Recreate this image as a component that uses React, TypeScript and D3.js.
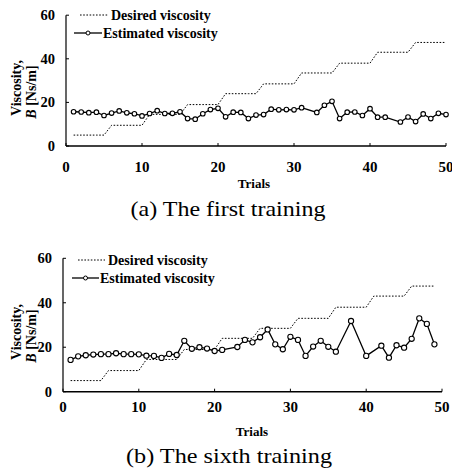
import React from "react";
import * as d3 from "d3";

// ---------- data ----------
const trialsA: number[] = [1,2,3,4,5,6,7,8,9,10,11,12,13,14,15,16,17,18,19,20,21,22,23,24,25,26,27,28,29,30,31,33,34,35,36,37,38,39,40,41,42,44,45,46,47,48,49,50];
const estimatedA: number[] = [15.7,15.6,15.3,15.5,14.0,15.1,16.1,15.2,14.8,13.8,14.9,16.2,14.9,15.0,15.7,12.6,12.3,14.8,16.7,17.3,13.4,15.5,15.4,12.6,14.2,14.4,16.9,16.6,16.7,16.6,17.6,15.4,18.7,20.5,12.6,15.5,15.6,14.0,17.1,13.2,13.2,11.0,13.3,11.2,14.7,12.6,15.0,14.4];

const trialsB: number[] = [1,2,3,4,5,6,7,8,9,10,11,12,13,14,15,16,17,18,19,20,21,23,24,25,26,27,28,29,30,31,32,33,34,35,36,38,40,42,43,44,45,46,47,48,49];
const estimatedB: number[] = [14.3,15.9,16.4,16.7,16.9,16.9,17.3,16.9,16.9,16.8,16.2,16.1,15.2,17.0,16.5,22.9,19.3,20.0,19.4,18.3,18.8,20.1,23.3,22.2,24.5,28.0,21.3,19.1,24.7,23.3,16.1,20.3,22.9,20.2,18.0,31.8,16.1,20.7,15.3,20.9,19.8,23.8,33.0,30.5,21.3];

const desiredTrialsA: number[] = [1,2,3,4,5,6,7,8,9,10,11,12,13,14,15,16,17,18,19,20,21,22,23,24,25,26,27,28,29,30,31,32,33,34,35,36,37,38,39,40,41,42,43,44,45,46,47,48,49,50];
const desiredA: number[] = [5,5,5,5,5,9.5,9.5,9.5,9.5,9.5,14.5,14.5,14.5,14.5,14.5,19,19,19,19,19,24,24,24,24,24,28.5,28.5,28.5,28.5,28.5,33.5,33.5,33.5,33.5,33.5,38,38,38,38,38,43,43,43,43,43,47.5,47.5,47.5,47.5,47.5];
const desiredTrialsB: number[] = [1,2,3,4,5,6,7,8,9,10,11,12,13,14,15,16,17,18,19,20,21,22,23,24,25,26,27,28,29,30,31,32,33,34,35,36,37,38,39,40,41,42,43,44,45,46,47,48,49];
const desiredB: number[] = [5,5,5,5,5,9.5,9.5,9.5,9.5,9.5,14.5,14.5,14.5,14.5,14.5,19,19,19,19,19,24,24,24,24,24,28.5,28.5,28.5,28.5,28.5,33,33,33,33,33,38,38,38,38,38,43,43,43,43,43,47.5,47.5,47.5,47.5];

const xTicks: number[] = [0, 10, 20, 30, 40, 50];
const yTicks: number[] = [0, 20, 40, 60];
const legendLabels: string[] = ["Desired viscosity", "Estimated viscosity"];
const titles: string[] = ["(a) The first training", "(b) The sixth training"];

const FONT = "Liberation Serif, Times New Roman, Times, DejaVu Serif, serif";

type PanelProps = {
  x0: number; x1: number; y0: number; y1: number;
  trials: number[]; est: number[]; dTrials: number[]; des: number[];
  title: string; r: number;
  legX: number; legY: number; legSample: number;
  ylabY: number; titleX: number; titleY: number; titleW: number;
  tickLabelY: number; trialsX: number; trialsY: number;
};

function Panel(p: PanelProps) {
  const x = d3.scaleLinear().domain([0, 50]).range([p.x0, p.x1]);
  const y = d3.scaleLinear().domain([0, 60]).range([p.y0, p.y1]);
  const line = d3.line<[number, number]>().x(d => x(d[0])).y(d => y(d[1]));
  const estPts: [number, number][] = p.trials.map((t, i) => [t, p.est[i]]);
  const desPts: [number, number][] = p.dTrials.map((t, i) => [t, p.des[i]]);
  const bold = { fontFamily: FONT, fontWeight: 700 } as React.CSSProperties;
  return (
    <g>
      {/* axes */}
      <line x1={p.x0} x2={p.x0} y1={y(60)} y2={y(0)} stroke="#000" strokeWidth={1.2} />
      <line x1={p.x0} x2={x(50)} y1={y(0)} y2={y(0)} stroke="#000" strokeWidth={1.4} />
      {yTicks.map(t => (
        <g key={"y" + t}>
          <line x1={p.x0} x2={p.x0 + 3} y1={y(t)} y2={y(t)} stroke="#000" strokeWidth={1} />
          <text x={p.x0 - 11} y={y(t) + 5} textAnchor="end" style={{ ...bold, fontSize: 14.5 }}>{t}</text>
        </g>
      ))}
      {xTicks.map(t => (
        <g key={"x" + t}>
          <line x1={x(t)} x2={x(t)} y1={y(0)} y2={y(0) - 3} stroke="#000" strokeWidth={1} />
          <text x={x(t)} y={p.tickLabelY} textAnchor="middle" style={{ ...bold, fontSize: 15 }}>{t}</text>
        </g>
      ))}
      <text x={p.trialsX} y={p.trialsY} textAnchor="middle" style={{ ...bold, fontSize: 13 }}>Trials</text>
      <text transform={`translate(21,${p.ylabY}) rotate(-90)`} textAnchor="middle" style={{ ...bold, fontSize: 14 }}>Viscosity,</text>
      <text transform={`translate(36,${p.ylabY + 4}) rotate(-90)`} textAnchor="middle" style={{ ...bold, fontSize: 14 }}>
        <tspan style={{ fontStyle: "italic" }}>B</tspan> [Ns/m]
      </text>
      {/* series */}
      <path d={line(desPts) || ""} fill="none" stroke="#000" strokeWidth={1} strokeDasharray="1.6,1.6" />
      <path d={line(estPts) || ""} fill="none" stroke="#000" strokeWidth={1.3} />
      {estPts.map((d, i) => (
        <circle key={i} cx={x(d[0])} cy={y(d[1])} r={p.r} fill="#fff" stroke="#000" strokeWidth={1.1} />
      ))}
      {/* legend */}
      <line x1={p.legX} x2={p.legX + p.legSample} y1={p.legY} y2={p.legY} stroke="#000" strokeWidth={1} strokeDasharray="1.6,1.6" />
      <text x={p.legX + p.legSample + 3} y={p.legY + 4.5} style={{ ...bold, fontSize: 14 }}>{legendLabels[0]}</text>
      <line x1={p.legX - 6} x2={p.legX + p.legSample - 6} y1={p.legY + 18} y2={p.legY + 18} stroke="#000" strokeWidth={1.3} />
      <circle cx={p.legX - 6 + p.legSample / 2} cy={p.legY + 18} r={2} fill="#fff" stroke="#000" strokeWidth={1} />
      <text x={p.legX + p.legSample - 5} y={p.legY + 22.5} style={{ ...bold, fontSize: 14 }}>{legendLabels[1]}</text>
      <text x={p.titleX} y={p.titleY} textAnchor="middle" textLength={p.titleW} lengthAdjust="spacingAndGlyphs"
        style={{ fontFamily: FONT, fontSize: 21 }}>{p.title}</text>
    </g>
  );
}

export default function App() {
  return (
    <svg width={452} height={468} style={{ position: "absolute", left: 0, top: 0, background: "#fff" }}>
      <rect x={0} y={0} width={452} height={468} fill="#fff" />
      <Panel x0={66} x1={446} y0={146} y1={15.2}
        trials={trialsA} est={estimatedA} dTrials={desiredTrialsA} des={desiredA}
        title={titles[0]} r={2.3}
        legX={80} legY={15} legSample={28}
        ylabY={88} titleX={228} titleY={216} titleW={195}
        tickLabelY={172} trialsX={254} trialsY={188} />
      <Panel x0={63} x1={442} y0={391.7} y1={258.3}
        trials={trialsB} est={estimatedB} dTrials={desiredTrialsB} des={desiredB}
        title={titles[1]} r={2.6}
        legX={78} legY={260} legSample={27}
        ylabY={332} titleX={229} titleY={463} titleW={206}
        tickLabelY={412} trialsX={252} trialsY={436} />
    </svg>
  );
}
